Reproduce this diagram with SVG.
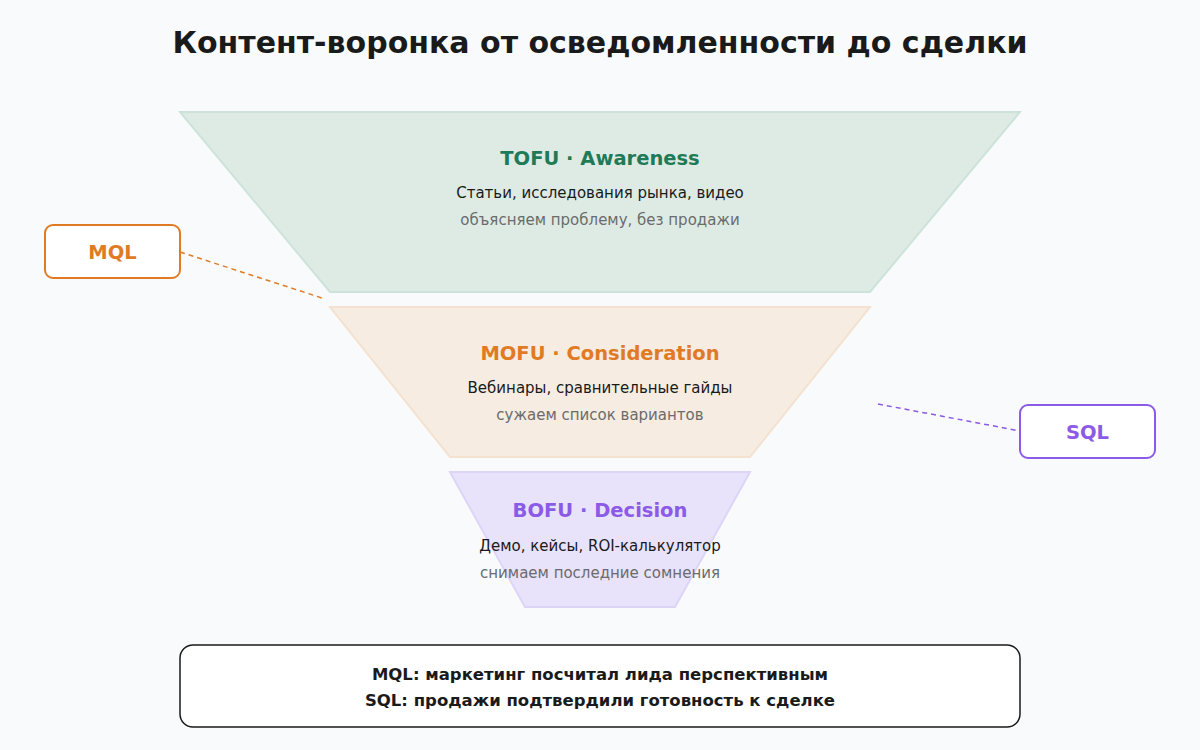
<svg xmlns="http://www.w3.org/2000/svg" width="1200" height="750" viewBox="0 0 1200 750">
<style>
text{font-family:"DejaVu Sans","Liberation Sans",sans-serif;text-anchor:middle}
.title{font-size:30px;font-weight:bold;fill:#1a1a1a}
.h{font-size:19.5px;font-weight:bold}
.sub{font-size:15px;fill:#1a1a1a}
.note{font-size:15px;fill:#6b6b6b}
.lbl{font-size:19.5px;font-weight:bold}
.foot{font-size:16.5px;font-weight:bold;fill:#1a1a1a}
.tag{fill:#ffffff;stroke-width:2}
</style>
<rect width="1200" height="750" fill="#f8fafc"/>
<text class="title" x="600" y="53">Контент-воронка от осведомленности до сделки</text>
<g id="tofu">
<polygon points="180,112 1020,112 870,292 330,292" fill="#deebe5" stroke="#cde3d9" stroke-width="2"/>
<text class="h" x="600" y="165" fill="#1f7a57">TOFU · Awareness</text>
<text class="sub" x="600" y="198">Статьи, исследования рынка, видео</text>
<text class="note" x="600" y="225">объясняем проблему, без продажи</text>
</g>
<g id="mofu">
<polygon points="330,307 870,307 750,457 450,457" fill="#f6ece2" stroke="#f4e1cf" stroke-width="2"/>
<text class="h" x="600" y="360" fill="#e07b24">MOFU · Consideration</text>
<text class="sub" x="600" y="393">Вебинары, сравнительные гайды</text>
<text class="note" x="600" y="420">сужаем список вариантов</text>
</g>
<g id="bofu">
<polygon points="450,472 750,472 675,607 525,607" fill="#e8e2fb" stroke="#ddd4f8" stroke-width="2"/>
<text class="h" x="600" y="517" fill="#8b5ae6">BOFU · Decision</text>
<text class="sub" x="600" y="551">Демо, кейсы, ROI-калькулятор</text>
<text class="note" x="600" y="578">снимаем последние сомнения</text>
</g>
<g id="connectors" fill="none" stroke-width="1.5" stroke-dasharray="5,4">
<line x1="180" y1="252" x2="322" y2="298" stroke="#e07b24"/>
<line x1="878" y1="404" x2="1020" y2="431" stroke="#8b5ae6"/>
</g>
<g id="mql">
<rect class="tag" x="45" y="225" width="135" height="53" rx="8" stroke="#e07b24"/>
<text class="lbl" x="112.5" y="259" fill="#e07b24">MQL</text>
</g>
<g id="sql">
<rect class="tag" x="1020" y="405" width="135" height="53" rx="8" stroke="#8b5ae6"/>
<text class="lbl" x="1087.5" y="439" fill="#8b5ae6">SQL</text>
</g>
<g id="legend">
<rect x="180" y="645" width="840" height="82" rx="13" fill="#ffffff" stroke="#1a1a1a" stroke-width="1.5"/>
<text class="foot" x="600" y="680">MQL: маркетинг посчитал лида перспективным</text>
<text class="foot" x="600" y="706">SQL: продажи подтвердили готовность к сделке</text>
</g>
</svg>
